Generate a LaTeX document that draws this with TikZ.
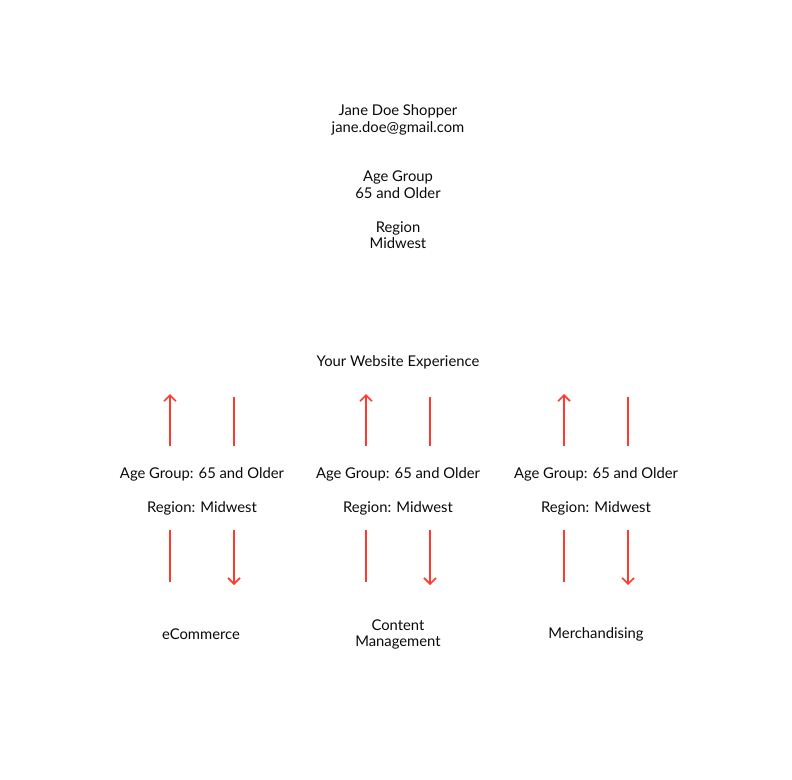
\documentclass[tikz,border=0pt]{standalone}
\usepackage{fontspec}
\setmainfont{Lato}
\usetikzlibrary{arrows.meta}
\definecolor{Ink}{HTML}{0A0A0A}
\definecolor{Flow}{HTML}{FF3B2F}
\tikzset{
  label/.style={font=\fontsize{14.8}{16.5}\selectfont,text=Ink,align=center,inner sep=0pt},
  flow/.style={Flow,line width=1.6pt},
  flowtip/.style={flow,-{Straight Barb[length=6pt,width=12pt,line width=1.6pt]}}
}
\begin{document}
\begin{tikzpicture}[x=1pt,y=-1pt]
\useasboundingbox (0,0) rectangle (792,779);
\node[label] (shopper) at (398,120) {Jane Doe Shopper\\jane.doe@gmail.com};
\node[label] (age) at (398,184.5) {Age Group\\65 and Older};
\node[label] (region) at (398,235) {Region\\Midwest};
\node[label] (site) at (398,362.5) {Your Website Experience};
\node[label] (ageA) at (202,474.5) {Age Group: 65 and Older};
\node[label] (ageB) at (398,474.5) {Age Group: 65 and Older};
\node[label] (ageC) at (596,474.5) {Age Group: 65 and Older};
\node[label] (regA) at (202,508.5) {Region: Midwest};
\node[label] (regB) at (398,508.5) {Region: Midwest};
\node[label] (regC) at (596,508.5) {Region: Midwest};
\node[label] (ecom) at (201,634.5) {eCommerce};
\node[label] (cms) at (398,634.5) {Content\\Management};
\node[label] (merch) at (596,634.5) {Merchandising};
% upper arrows
\coordinate (upA1) at (170,446); \coordinate (upA2) at (170,394);
\coordinate (dnA1) at (234,397); \coordinate (dnA2) at (234,446);
\coordinate (upB1) at (366,446); \coordinate (upB2) at (366,394);
\coordinate (dnB1) at (430,397); \coordinate (dnB2) at (430,446);
\coordinate (upC1) at (564,446); \coordinate (upC2) at (564,394);
\coordinate (dnC1) at (628,397); \coordinate (dnC2) at (628,446);
\draw[flowtip] (upA1) -- (upA2);
\draw[flow] (dnA1) -- (dnA2);
\draw[flowtip] (upB1) -- (upB2);
\draw[flow] (dnB1) -- (dnB2);
\draw[flowtip] (upC1) -- (upC2);
\draw[flow] (dnC1) -- (dnC2);
% lower arrows
\coordinate (loA1) at (170,530); \coordinate (loA2) at (170,582);
\coordinate (ouA1) at (234,530); \coordinate (ouA2) at (234,585);
\coordinate (loB1) at (366,530); \coordinate (loB2) at (366,582);
\coordinate (ouB1) at (430,530); \coordinate (ouB2) at (430,585);
\coordinate (loC1) at (564,530); \coordinate (loC2) at (564,582);
\coordinate (ouC1) at (628,530); \coordinate (ouC2) at (628,585);
\draw[flow] (loA1) -- (loA2);
\draw[flowtip] (ouA1) -- (ouA2);
\draw[flow] (loB1) -- (loB2);
\draw[flowtip] (ouB1) -- (ouB2);
\draw[flow] (loC1) -- (loC2);
\draw[flowtip] (ouC1) -- (ouC2);
\end{tikzpicture}
\end{document}
